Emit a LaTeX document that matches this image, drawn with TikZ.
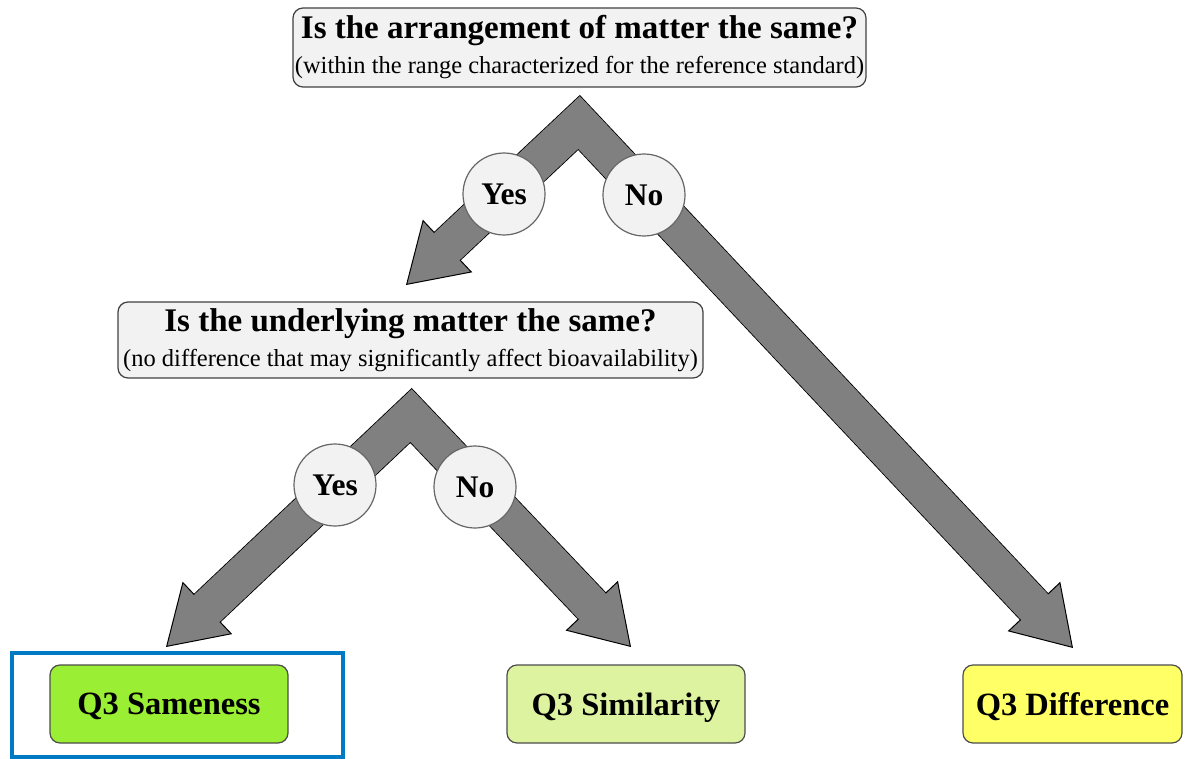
\documentclass[tikz,border=0pt]{standalone}
\usepackage{fontspec}
\setmainfont{Liberation Serif}
\usetikzlibrary{arrows.meta}

\definecolor{boxgray}{RGB}{242,242,242}
\definecolor{arrowgray}{RGB}{128,128,128}
\definecolor{samegreen}{RGB}{154,238,52}
\definecolor{simgreen}{RGB}{222,243,160}
\definecolor{diffyellow}{RGB}{255,255,102}
\definecolor{markblue}{RGB}{0,122,194}

\newcommand{\qtitle}{\fontsize{33}{36}\selectfont\bfseries}
\newcommand{\qnote}{\fontsize{24.5}{27}\selectfont}

\tikzset{
  question/.style={draw=black!75, fill=boxgray, rounded corners=10pt, line width=1.2pt,
    align=center, inner sep=0pt, font=\qnote},
  answer/.style={circle, draw=black!60, fill=boxgray, line width=1.2pt,
    minimum size=82pt, inner sep=0pt, font=\fontsize{31.5}{32}\selectfont\bfseries},
  outcome/.style={draw=black!70, rounded corners=10pt, line width=1.2pt,
    minimum height=78pt, inner sep=0pt, text depth=0pt, font=\fontsize{32.5}{33}\selectfont\bfseries},
  bighead/.tip={Triangle[length=57pt, width=72pt, line width=1pt, color=black, fill=arrowgray]},
  bigarrow/.style={draw=arrowgray, line width=37pt, line join=miter, bighead-bighead,
    preaction={draw=black, line width=39pt, line join=miter, arrows=-, shorten <=55pt, shorten >=55pt},
    postaction={draw=arrowgray, line width=37pt, line join=miter, arrows=-, shorten <=53pt, shorten >=53pt}}
}

\begin{document}
\begin{tikzpicture}[x=1pt, y=-1pt]
  \useasboundingbox (0,0) rectangle (1190,759);
  % questions
  \node[question, minimum width=573pt, minimum height=79pt] (arrangement) at (579.5,47.5)
    {{\qtitle Is the arrangement of matter the same?}\\[8pt](within the range characterized for the reference standard)};
  \node[question, minimum width=585pt, minimum height=76pt] (underlying) at (410.5,340)
    {{\qtitle Is the underlying matter the same?}\\[8pt](no difference that may significantly affect bioavailability)};
  % outcomes
  \node[outcome, fill=samegreen, minimum width=238pt] (sameness) at (169,704) {Q3 Sameness};
  \node[outcome, fill=simgreen, minimum width=238pt] (similarity) at (626,704) {Q3 Similarity};
  \node[outcome, fill=diffyellow, minimum width=219pt] (difference) at (1072.5,704) {Q3 Difference};
  \draw[markblue, line width=4pt] (12,653) rectangle (343,757);
  % arrows
  \coordinate (apexA) at (579,122.5);
  \coordinate (tipA1) at (406,285);
  \coordinate (tipA2) at (1073,648);
  \coordinate (apexB) at (411,415.5);
  \coordinate (tipB1) at (166,647);
  \coordinate (tipB2) at (631,647);
  \draw[bigarrow] (tipA1) -- (apexA) -- (tipA2);
  \draw[bigarrow] (tipB1) -- (apexB) -- (tipB2);
  % answers
  \node[answer] (yesA) at (504,194) {Yes};
  \node[answer] (noA) at (644,195) {No};
  \node[answer] (yesB) at (335,485) {Yes};
  \node[answer] (noB) at (475,487) {No};
\end{tikzpicture}
\end{document}
